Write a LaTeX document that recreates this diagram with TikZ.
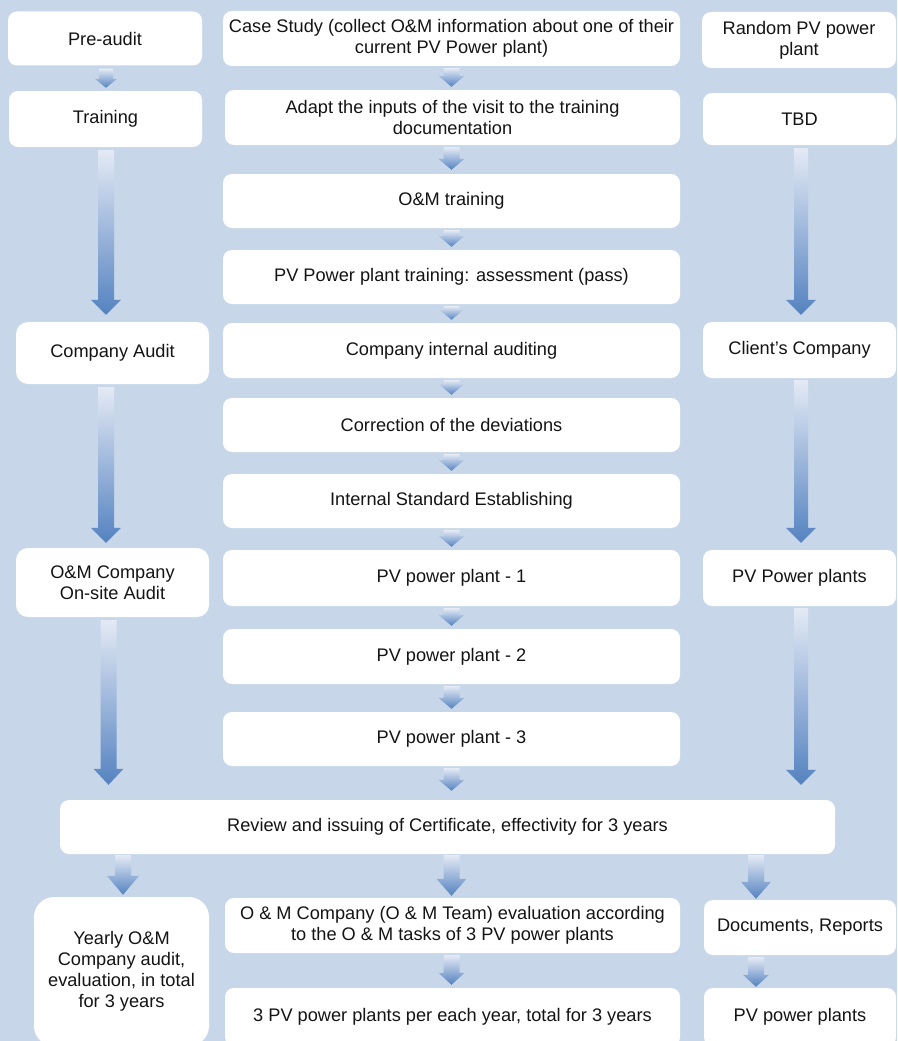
\documentclass[tikz,border=0pt]{standalone}
\usepackage{fontspec}
\setmainfont{Liberation Sans}
\usetikzlibrary{calc}
\definecolor{bgc}{RGB}{199,214,233}
\definecolor{arrdark}{RGB}{84,130,192}
\definecolor{arrlight}{RGB}{228,234,245}
\definecolor{arrmid}{RGB}{196,210,234}
\definecolor{txt}{RGB}{20,20,20}
\tikzset{
  box/.style={fill=white, draw=none, rounded corners=9pt, align=center,
    font=\fontsize{18.2}{21}\selectfont, text=txt, inner sep=0pt},
  arrowshade/.style={top color=arrlight, middle color=arrmid, bottom color=arrdark, draw=none}
}
% #1 x coordinate, #2 from node, #3 to node, #4 top gap, #5 bottom gap,
% #6 shaft half width, #7 head half width, #8 head length
\newcommand\barrow[8]{%
  \coordinate (bt) at ($(#1 |- #2.south)+(0,#4)$);
  \coordinate (bb) at ($(#1 |- #3.north)+(0,-#5)$);
  \shade[arrowshade] ($(bt)+(-#6,0)$) -- ($(bb)+(-#6,-#8)$) -- ($(bb)+(-#7,-#8)$) -- (bb)
    -- ($(bb)+(#7,-#8)$) -- ($(bb)+(#6,-#8)$) -- ($(bt)+(#6,0)$) -- cycle;
}
\begin{document}
\begin{tikzpicture}[x=1pt,y=-1pt]
\useasboundingbox (0,0) rectangle (897,1041);
\fill[bgc] (0,0) rectangle (897,1041);
\clip (0,0) rectangle (897,1041);

% left column
\node[box, minimum width=194pt, minimum height=54pt] (pre) at (105,38.5) {Pre-audit};
\node[box, minimum width=193pt, minimum height=56pt] (train) at (105.5,119) {Training};
\node[box, minimum width=193pt, minimum height=62pt, rounded corners=12pt] (caudit) at (112.5,353) {Company Audit};
\node[box, minimum width=193pt, minimum height=69pt, rounded corners=12pt] (onsite) at (112.5,582.5) {O\&M Company\\On-site Audit};
\node[box, minimum width=175pt, minimum height=149pt, rounded corners=20pt] (yearly) at (121.5,971.5) {Yearly O\&M\\Company audit,\\evaluation, in total\\for 3 years};

% middle column
\node[box, minimum width=457pt, minimum height=55pt] (case) at (451.5,38.5) {Case Study (collect O\&M information about one of their\\current PV Power plant)};
\node[box, minimum width=455pt, minimum height=55pt] (adapt) at (452.5,117.5) {Adapt the inputs of the visit to the training\\documentation};
\node[box, minimum width=457pt, minimum height=54pt] (omtrain) at (451.5,201) {O\&M training};
\node[box, minimum width=457pt, minimum height=54pt] (pvtrain) at (451.5,277) {PV Power plant training: assessment (pass)};
\node[box, minimum width=457pt, minimum height=55pt] (internal) at (451.5,350.5) {Company internal auditing};
\node[box, minimum width=457pt, minimum height=54pt] (correction) at (451.5,425) {Correction of the deviations};
\node[box, minimum width=457pt, minimum height=54pt] (standard) at (451.5,501) {Internal Standard Establishing};
\node[box, minimum width=457pt, minimum height=56pt] (pv1) at (451.5,578) {PV power plant - 1};
\node[box, minimum width=457pt, minimum height=55pt] (pv2) at (451.5,656.5) {PV power plant - 2};
\node[box, minimum width=457pt, minimum height=54pt] (pv3) at (451.5,739) {PV power plant - 3};
\node[box, minimum width=775pt, minimum height=54pt] (review) at (447.5,827) {Review and issuing of Certificate, effectivity for 3 years};
\node[box, minimum width=455pt, minimum height=55pt] (eval) at (452.5,925.5) {O \& M Company (O \& M Team) evaluation according\\to the O \& M tasks of 3 PV power plants};
\node[box, minimum width=455pt, minimum height=58pt] (plants3) at (452.5,1017) {3 PV power plants per each year, total for 3 years};

% right column
\node[box, minimum width=194pt, minimum height=56pt] (random) at (799,40) {Random PV power\\plant};
\node[box, minimum width=193pt, minimum height=52pt] (tbd) at (799.5,119) {TBD};
\node[box, minimum width=193pt, minimum height=56pt] (client) at (799.5,350) {Client's Company};
\node[box, minimum width=193pt, minimum height=56pt] (pvplants) at (799.5,578) {PV Power plants};
\node[box, minimum width=192pt, minimum height=55pt] (docs) at (800,927.5) {Documents, Reports};
\node[box, minimum width=192pt, minimum height=58pt] (pvp) at (800,1017) {PV power plants};

% arrow x positions
\coordinate (xLa) at (106,0);
\coordinate (xLb) at (108.5,0);
\coordinate (xLc) at (123,0);
\coordinate (xM) at (451.5,0);
\coordinate (xRa) at (801,0);
\coordinate (xRb) at (756,0);

% left arrows
\barrow{xLa}{pre}{train}{3}{3}{7}{11}{9}
\barrow{xLa}{train}{caudit}{3}{7}{8}{15}{15}
\barrow{xLa}{caudit}{onsite}{3}{5}{8}{15}{15}
\barrow{xLb}{onsite}{review}{3}{15}{8}{15}{16}
\barrow{xLc}{review}{yearly}{1}{2}{8}{16}{19}

% middle arrows
\barrow{xM}{case}{adapt}{2}{3}{8}{13}{11}
\barrow{xM}{adapt}{omtrain}{2}{4}{8}{13}{11}
\barrow{xM}{omtrain}{pvtrain}{2}{3}{8}{13}{11}
\barrow{xM}{pvtrain}{internal}{2}{3}{8}{13}{11}
\barrow{xM}{internal}{correction}{2}{3}{8}{13}{11}
\barrow{xM}{correction}{standard}{2}{3}{8}{13}{11}
\barrow{xM}{standard}{pv1}{2}{3}{8}{13}{11}
\barrow{xM}{pv1}{pv2}{2}{3}{8}{13}{11}
\barrow{xM}{pv2}{pv3}{2}{3}{8}{13}{11}
\barrow{xM}{pv3}{review}{2}{9}{8}{13}{11}
\barrow{xM}{review}{eval}{1}{2}{8}{15}{17}
\barrow{xM}{eval}{plants3}{2}{3}{8}{13}{12}

% right arrows
\barrow{xRa}{tbd}{client}{3}{7}{7}{15}{15}
\barrow{xRa}{client}{pvplants}{2}{7}{7}{15}{15}
\barrow{xRa}{pvplants}{review}{2}{15}{7}{15}{15}
\barrow{xRb}{review}{docs}{1}{1}{8}{15}{17}
\barrow{xRb}{docs}{pvp}{2}{1}{8}{13}{12}
\end{tikzpicture}
\end{document}
